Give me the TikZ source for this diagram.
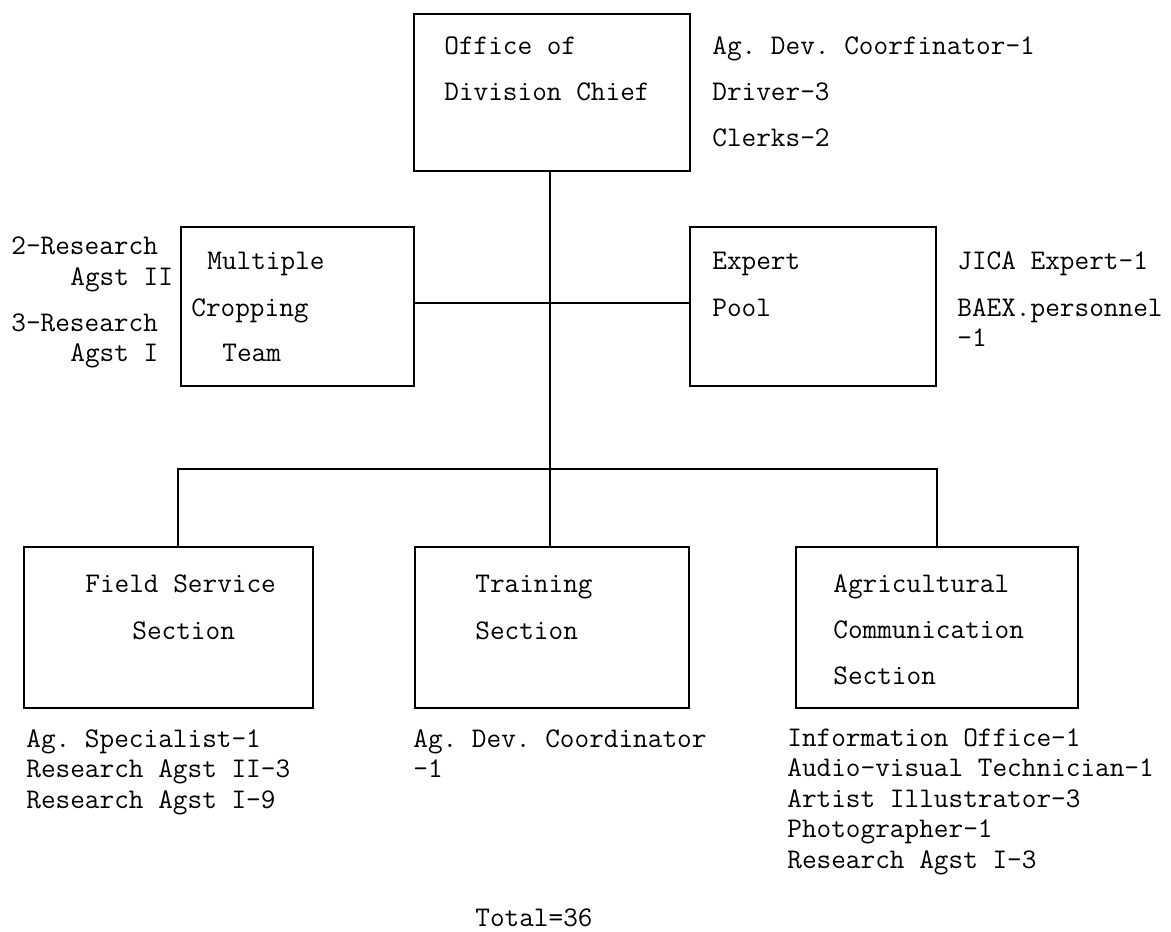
\documentclass[tikz,border=0pt]{standalone}
\usepackage{fontspec}
\usepackage{tikz}
\frenchspacing
\tikzstyle{unit} = [rectangle, draw=black, line width=1pt, inner sep=0pt]
\tikzstyle{txt} = [anchor=base west, inner sep=0pt, font=\ttfamily\fontsize{16.2}{19}\selectfont]
\tikzstyle{line} = [line width=1pt]

\begin{document}
\begin{tikzpicture}[x=0.02cm, y=-0.02cm]
				\useasboundingbox (0,0) rectangle (1171,932);
				%----------------------------------------------------%
				\node(chief) [unit, minimum width=5.52cm, minimum height=3.14cm] at (552,92.5) {};
				\node(chief1) [txt] at (444,55) {Office of};
				\node(chief2) [txt] at (444,101) {Division Chief};
				\node(chiefs1) [txt] at (712,55) {Ag. Dev. Coorfinator-1};
				\node(chiefs2) [txt] at (712,101) {Driver-3};
				\node(chiefs3) [txt] at (712,147) {Clerks-2};
				
				%----------------------------------------------------%
				\node(multi) [unit, minimum width=4.66cm, minimum height=3.18cm] at (297.5,306.5) {};
				\node(multi1) [txt] at (207,270) {Multiple};
				\node(multi2) [txt] at (191,317) {Cropping};
				\node(multi3) [txt] at (222,362) {Team};
				\node(multis1) [txt] at (11,255) {2-Research};
				\node(multis2) [txt] at (70,286) {Agst II};
				\node(multis3) [txt] at (11,332) {3-Research};
				\node(multis4) [txt] at (70,362) {Agst I};
				
				\node(expert) [unit, minimum width=4.92cm, minimum height=3.18cm] at (813,306.5) {};
				\node(expert1) [txt] at (712,270) {Expert};
				\node(expert2) [txt] at (712,317) {Pool};
				\node(experts1) [txt] at (957,270) {JICA Expert-1};
				\node(experts2) [txt] at (957,317) {BAEX.personnel};
				\node(experts3) [txt] at (957,347) {-1};
				
				%----------------------------------------------------%
				\node(field) [unit, minimum width=5.78cm, minimum height=3.22cm] at (168.5,627.5) {};
				\node(field1) [txt] at (85,593) {Field Service};
				\node(field2) [txt] at (132,640) {Section};
				\node(fields1) [txt] at (26,747) {Ag. Specialist-1};
				\node(fields2) [txt] at (26,777.5) {Research Agst II-3};
				\node(fields3) [txt] at (26,808) {Research Agst I-9};
				
				\node(train) [unit, minimum width=5.48cm, minimum height=3.22cm] at (552,627.5) {};
				\node(train1) [txt] at (475,593) {Training};
				\node(train2) [txt] at (475,640) {Section};
				\node(trains1) [txt] at (413,747) {Ag. Dev. Coordinator};
				\node(trains2) [txt] at (413,777.5) {-1};
				
				\node(agri) [unit, minimum width=5.64cm, minimum height=3.22cm] at (937,627.5) {};
				\node(agri1) [txt] at (833,593) {Agricultural};
				\node(agri2) [txt] at (833,639) {Communication};
				\node(agri3) [txt] at (833,685) {Section};
				\node(agris1) [txt] at (787,746) {Information Office-1};
				\node(agris2) [txt] at (787,776.5) {Audio-visual Technician-1};
				\node(agris3) [txt] at (787,807) {Artist Illustrator-3};
				\node(agris4) [txt] at (787,837.5) {Photographer-1};
				\node(agris5) [txt] at (787,868) {Research Agst I-3};
				
				\node(total) [txt] at (475,926) {Total=36};
				
				%----------------------------------------------------%
				\coordinate(hub) at (550,303);
				\coordinate(bus) at (178,469);
				\draw[line] (chief.south -| hub) -- (train.north -| hub);
				\draw[line] (multi.east |- hub) -- (expert.west |- hub);
				\draw[line] (field.north -| bus) -- (bus) -| (agri.north);
			\end{tikzpicture}
\end{document}
